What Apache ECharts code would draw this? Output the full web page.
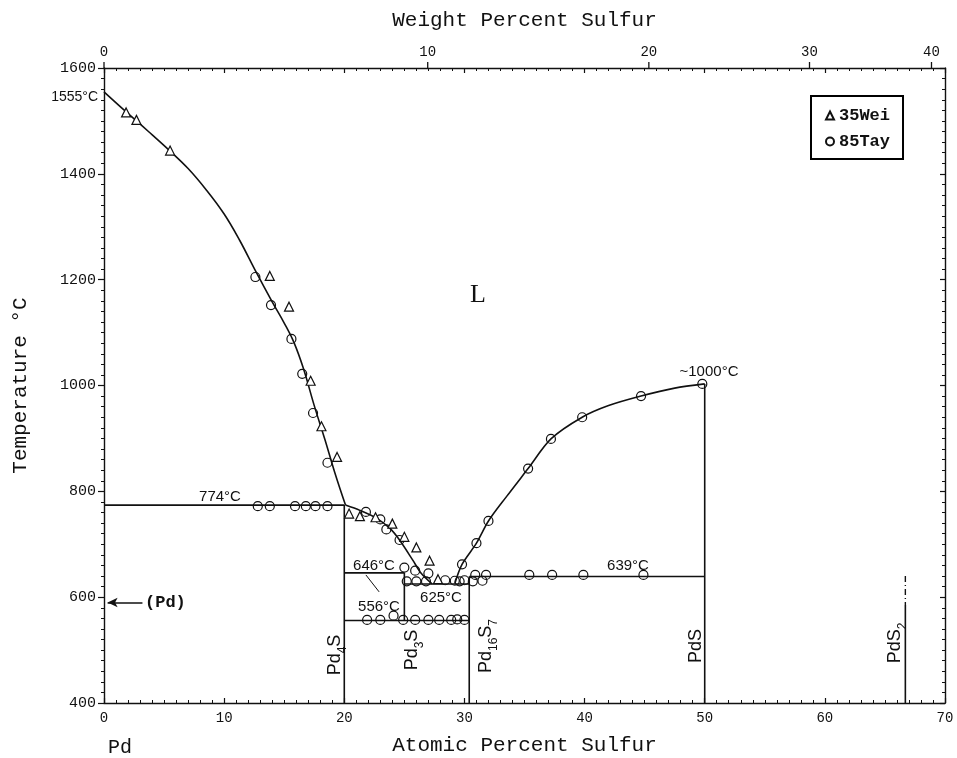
<!DOCTYPE html>
<html><head><meta charset="utf-8">
<script src="https://cdn.jsdelivr.net/npm/echarts/dist/echarts.min.js"></script>
<style>html,body{margin:0;padding:0;background:#fff}#c{width:957px;height:758px}</style>
</head><body><div id="c"></div>
<script>
// ---- axis ticks ----
const atTicks = [0, 10, 20, 30, 40, 50, 60, 70];
const tempTicks = [400, 600, 800, 1000, 1200, 1400, 1600];
const wtTicks = [0, 10, 20, 30, 40];

// ---- phase boundaries (at.% S, °C) ----
const liqUpperX = [0, 1.8, 3.7, 5.5, 7.0, 8.5, 10.0, 11.3, 12.6, 14.0, 15.0, 15.8, 16.6, 17.5, 18.4, 19.2, 20.1];
const liqUpperT = [1555, 1518, 1480, 1443, 1410, 1370, 1324, 1274, 1217, 1158, 1118, 1082, 1032, 962, 897, 836, 774];
const liqLowerX = [20.1, 21.3, 22.7, 23.8, 24.6, 25.7, 26.4, 27.3];
const liqLowerT = [774, 764, 749, 730, 708, 670, 645, 625];
const liqRightX = [29.2, 29.8, 31.0, 32.0, 33.5, 35.3, 37.2, 39.8, 42.0, 44.7, 47.5, 50.0];
const liqRightT = [626, 662, 702, 744, 790, 843, 899, 940, 962, 980, 995, 1003];

const iso774X = [0, 20], iso774T = [774, 774];
const iso646X = [20, 25], iso646T = [646, 646];
const iso625X = [25, 30.4], iso625T = [625, 625];
const iso556X = [20, 30.4], iso556T = [556, 556];
const iso639X = [30.4, 50], iso639T = [639, 639];
const pd4sX = [20, 20], pd4sT = [774, 400];
const pd3sX = [25, 25], pd3sT = [646, 556];
const pd16s7X = [30.4, 30.4], pd16s7T = [639, 400];
const pdsX = [50, 50], pdsT = [1003, 400];
const pds2SolidX = [66.7, 66.7], pds2SolidT = [585, 400];
const pds2DashX = [66.7, 66.7], pds2DashT = [640, 585];
const leaderX = [21.8, 22.9], leaderT = [642, 610];
const pdArrowX = [0.3, 3.2], pdArrowT = [590, 590];

// ---- experimental points ----
const weiX = [1.84, 2.7, 5.5, 13.8, 15.4, 17.2, 18.1, 19.4, 20.4, 21.3, 22.6, 24.0, 25.0, 26.0, 27.1, 27.8];
const weiT = [1516, 1502, 1444, 1207, 1149, 1009, 923, 865, 758, 753, 751, 739, 714, 694, 669, 634];
const tayX = [12.6, 13.9, 15.6, 16.5, 17.4, 18.6,
  12.8, 13.8, 15.9, 16.8, 17.6, 18.6,
  21.8, 23.0, 23.5, 24.6, 25.0, 25.9, 27.0,
  25.2, 26.0, 26.8, 28.4, 29.2, 29.6, 30.0, 30.7, 31.5,
  21.9, 23.0, 24.1, 24.9, 25.9, 27.0, 27.9, 28.9, 29.4, 30.0,
  29.8, 31.0, 32.0, 35.3, 37.2, 39.8, 44.7, 49.8,
  30.9, 31.8, 35.4, 37.3, 39.9, 44.9];
const tayT = [1205, 1152, 1088, 1022, 948, 854,
  772, 772, 772, 772, 772, 772,
  761, 747, 728, 708, 656, 650, 645,
  630, 630, 630, 632, 631, 630, 632, 630, 631,
  557, 557, 565, 557, 557, 557, 557, 557, 558, 557,
  662, 702, 744, 843, 899, 940, 980, 1003,
  642, 642, 642, 642, 642, 642];

// wt.% -> at.% conversion for the top axis (Pd 106.42, S 32.06)
function wtToAt(w) { const s = w / 32.06, p = (100 - w) / 106.42; return 100 * s / (s + p); }
const pair = (xs, ts) => xs.map((x, i) => [x, ts[i]]);

const BLK = '#111';
function ln(xs, ts, extra) {
  return Object.assign({ type: 'line', data: pair(xs, ts), symbol: 'none', silent: true, z: 3,
    lineStyle: { color: BLK, width: 1.6 } }, extra || {});
}

const chart = echarts.init(document.getElementById('c'), null, { renderer: 'canvas' });
const monoFont = '"Liberation Mono", "DejaVu Sans Mono", monospace';
const sansFont = '"Liberation Sans", Arial, sans-serif';

function txt(text, x, y, opts) {
  return { type: 'text', x: x, y: y, silent: true, z: 20,
    style: Object.assign({ text: text, font: '15px ' + sansFont, fill: BLK, align: 'center', verticalAlign: 'middle' }, (opts && opts.style) || {}) };
}
function rot(parts, x, y) {
  const rich = { a: { fontSize: 18, fontFamily: sansFont, fill: BLK, color: BLK, lineHeight: 20, verticalAlign: 'bottom' },
                 s: { fontSize: 12, fontFamily: sansFont, fill: BLK, color: BLK, lineHeight: 12, verticalAlign: 'bottom', padding: [0, 0, -5, 0] } };
  return { type: 'text', x: x, y: y, rotation: Math.PI / 2, silent: true, z: 20,
    style: { text: parts, rich: rich, align: 'center', verticalAlign: 'middle', fill: BLK } };
}

const option = {
  animation: false,
  backgroundColor: '#fff',
  grid: { left: 104, right: 12, top: 68, bottom: 55, containLabel: false, outerBoundsMode: 'none' },
  legend: {
    orient: 'vertical', left: 811, top: 96, itemWidth: 8, itemHeight: 8, itemGap: 9,
    padding: [11, 13, 9, 14], borderColor: '#000', borderWidth: 2, backgroundColor: '#fff',
    textStyle: { fontFamily: monoFont, fontWeight: 'bold', fontSize: 17, color: BLK },
    data: ['35Wei', '85Tay']
  },
  xAxis: [
    { type: 'value', position: 'bottom', min: 0, max: 70, interval: 10,
      name: 'Atomic Percent Sulfur', nameLocation: 'middle', nameGap: 32, nameMoveOverlap: false,
      nameTextStyle: { fontFamily: monoFont, fontSize: 21, color: BLK },
      axisLine: { show: true, onZero: false, lineStyle: { color: BLK, width: 1.4 } },
      axisTick: { show: true, inside: true, length: 5, lineStyle: { color: BLK, width: 1.2 } },
      minorTick: { show: true, splitNumber: 10, length: 3, lineStyle: { color: BLK, width: 1 } },
      axisLabel: { show: true, margin: 8, fontFamily: monoFont, fontSize: 14, color: BLK,
        formatter: v => atTicks.includes(v) ? String(v) : '' },
      splitLine: { show: false }, minorSplitLine: { show: false } },
    { type: 'value', position: 'top', min: 0, max: 70, interval: 10,
      name: 'Weight Percent Sulfur', nameLocation: 'middle', nameGap: 37, nameMoveOverlap: false,
      nameTextStyle: { fontFamily: monoFont, fontSize: 21, color: BLK },
      axisLine: { show: true, onZero: false, lineStyle: { color: BLK, width: 1.4 } },
      axisTick: { show: true, inside: true, length: 5, lineStyle: { color: BLK, width: 1.2 } },
      minorTick: { show: true, splitNumber: 10, length: 3, lineStyle: { color: BLK, width: 1 } },
      axisLabel: { show: false }, splitLine: { show: false } }
  ],
  yAxis: [
    { type: 'value', position: 'left', min: 400, max: 1600, interval: 200,
      name: 'Temperature °C', nameLocation: 'middle', nameGap: 73, nameMoveOverlap: false,
      nameTextStyle: { fontFamily: monoFont, fontSize: 21, color: BLK },
      axisLine: { show: true, onZero: false, lineStyle: { color: BLK, width: 1.4 } },
      axisTick: { show: true, inside: false, length: 6, lineStyle: { color: BLK, width: 1.2 } },
      minorTick: { show: true, splitNumber: 10, length: 3, lineStyle: { color: BLK, width: 1 } },
      axisLabel: { show: true, margin: 8, fontFamily: monoFont, fontSize: 15, color: BLK,
        formatter: v => tempTicks.includes(v) ? String(v) : '' },
      splitLine: { show: false } },
    { type: 'value', position: 'right', min: 400, max: 1600, interval: 200,
      axisLine: { show: true, onZero: false, lineStyle: { color: BLK, width: 1.4 } },
      axisTick: { show: true, inside: true, length: 5, lineStyle: { color: BLK, width: 1.2 } },
      minorTick: { show: true, splitNumber: 10, length: 3, lineStyle: { color: BLK, width: 1 } },
      axisLabel: { show: false }, splitLine: { show: false } }
  ],
  series: [
    ln(liqUpperX, liqUpperT, { smooth: 0.4 }),
    ln(liqLowerX, liqLowerT, { smooth: 0.3 }),
    ln(liqRightX, liqRightT, { smooth: 0.3 }),
    ln(iso774X, iso774T), ln(iso646X, iso646T), ln(iso625X, iso625T), ln(iso556X, iso556T), ln(iso639X, iso639T),
    ln(pd4sX, pd4sT), ln(pd3sX, pd3sT), ln(pd16s7X, pd16s7T), ln(pdsX, pdsT),
    ln(pds2SolidX, pds2SolidT),
    ln(pds2DashX, pds2DashT, { lineStyle: { color: BLK, width: 1.4, type: [6, 3, 1, 3] } }),
    ln(leaderX, leaderT, { lineStyle: { color: BLK, width: 1 } }),
    { type: 'line', data: [], silent: true,
      markLine: { silent: true, symbol: ['arrow', 'none'], symbolSize: [7, 10], label: { show: false },
        lineStyle: { color: BLK, width: 1.6, type: 'solid' },
        data: [[{ coord: [pdArrowX[0], pdArrowT[0]] }, { coord: [pdArrowX[1], pdArrowT[1]] }]] } },
    { name: '35Wei', type: 'scatter', data: pair(weiX, weiT), symbol: 'triangle', symbolSize: 9, z: 5,
      itemStyle: { color: '#fff', borderColor: BLK, borderWidth: 1.2, opacity: 1 } },
    { name: '85Tay', type: 'scatter', data: pair(tayX, tayT), symbol: 'circle', symbolSize: 9, z: 4,
      itemStyle: { color: 'rgba(255,255,255,0)', borderColor: BLK, borderWidth: 1.2, opacity: 1 } },
    { type: 'custom', silent: true, clip: false, z: 10,
      data: wtTicks.map(w => [wtToAt(w), 1600, w]),
      renderItem: (params, api) => {
        const p = api.coord([api.value(0), api.value(1)]);
        return { type: 'group', children: [
          { type: 'line', shape: { x1: p[0], y1: p[1], x2: p[0], y2: p[1] - 6 }, style: { stroke: BLK, lineWidth: 1.3 } },
          { type: 'text', x: p[0], y: p[1] - 9, style: { text: String(api.value(2)), align: 'center', verticalAlign: 'bottom',
            font: '14px ' + monoFont, fill: BLK } }
        ] };
      } }
  ],
  graphic: [
    txt('1555°C', 98, 97, { style: { align: 'right', font: '14px ' + sansFont } }),
    txt('774°C', 220, 497),
    txt('646°C', 374, 566),
    txt('556°C', 379, 607),
    txt('625°C', 441, 598),
    txt('639°C', 628, 566),
    txt('~1000°C', 709, 372),
    txt('L', 478, 295, { style: { font: '26px "Liberation Serif", serif' } }),
    txt('(Pd)', 145, 603, { style: { align: 'left', font: 'bold 17px ' + monoFont } }),
    txt('Pd', 120, 748, { style: { font: '20px ' + monoFont } }),
    rot('{a|Pd}{s|4}{a|S}', 334, 655),
    rot('{a|Pd}{s|3}{a|S}', 411, 650),
    rot('{a|Pd}{s|16}{a|S}{s|7}', 485, 646),
    rot('{a|PdS}', 695, 646),
    rot('{a|PdS}{s|2}', 894, 643)
  ]
};
chart.setOption(option);
</script>
</body></html>
